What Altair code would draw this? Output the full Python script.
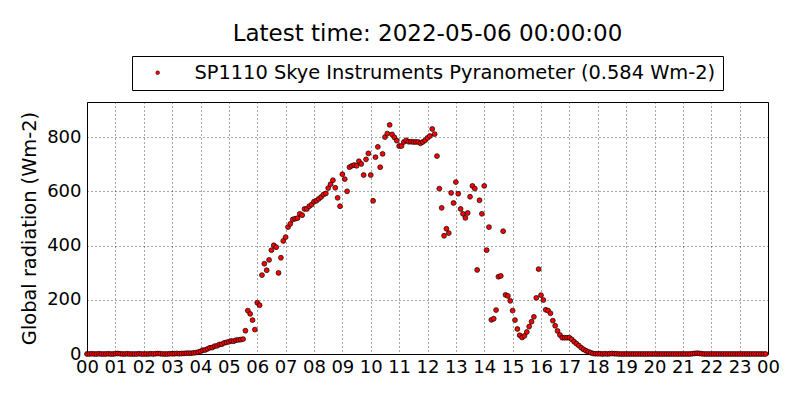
import altair as alt
import pandas as pd

# 5-minute samples, 12 per hour (W m-2)
h00 = [0, 0, 1, 0, 0, 1, 0, 0, 0, 1, 0, 0]
h01 = [1, 2, 1, 0, 0, 1, 0, 0, 0, 0, 1, 0]
h02 = [0, 0, 0, 1, 0, 1, 2, 1, 0, 0, 0, 1]
h03 = [1, 1, 2, 1, 2, 2, 3, 3, 3, 4, 5, 7]
h04 = [10, 14, 15, 19, 23, 24, 29, 30, 35, 36, 41, 43]
h05 = [45, 48, 47, 51, 52, 53, 55, 86, 160, 148, 125, 90]
h06 = [189, 180, 291, 333, 309, 347, 383, 401, 394, 299, 355, 417]
h07 = [431, 468, 480, 496, 499, 501, 517, 512, 535, 535, 545, 551]
h08 = [562, 565, 572, 579, 588, 592, 612, 626, 641, 613, 576, 545]
h09 = [663, 645, 600, 689, 694, 697, 694, 711, 701, 660, 718, 740]
h10 = [660, 565, 726, 764, 689, 738, 800, 813, 845, 810, 799, 787]
h11 = [767, 767, 782, 788, 783, 783, 782, 782, 782, 777, 782, 788]
h12 = [797, 804, 830, 811, 730, 610, 539, 436, 462, 446, 594, 557]
h13 = [634, 591, 535, 517, 502, 520, 580, 620, 610, 310, 567, 517]
h14 = [620, 383, 468, 126, 130, 162, 285, 288, 453, 218, 214, 196]
h15 = [160, 125, 92, 69, 61, 67, 81, 101, 119, 137, 207, 313]
h16 = [217, 199, 163, 160, 150, 123, 104, 85, 70, 60, 60, 60]
h17 = [60, 54, 45, 38, 31, 23, 17, 12, 8, 5, 2, 1]
h18 = [1, 1, 0, 1, 0, 1, 2, 1, 1, 0, 0, 0]
h19 = [0, 0, 0, 0, 0, 0, 0, 0, 0, 0, 0, 0]
h20 = [0, 0, 0, 0, 0, 0, 0, 0, 0, 0, 0, 0]
h21 = [0, 0, 0, 0, 1, 2, 3, 2, 1, 0, 0, 0]
h22 = [0, 0, 0, 0, 0, 0, 0, 0, 0, 0, 0, 0]
h23 = [0, 0, 0, 0, 0, 0, 0, 0, 0, 0, 0, 0]

hours = [h00, h01, h02, h03, h04, h05, h06, h07, h08, h09, h10, h11,
         h12, h13, h14, h15, h16, h17, h18, h19, h20, h21, h22, h23]
hour_ticks = list(range(25))
y_ticks = [0, 200, 400, 600, 800]
series_name = "SP1110 Skye Instruments Pyranometer (0.584 Wm-2)"
title_text = "Latest time: 2022-05-06 00:00:00"

rows = []
for h, vals in enumerate(hours):
    for k, v in enumerate(vals):
        rows.append({"hour": h + k * 5 / 60.0, "rad": v, "series": series_name})
df = pd.DataFrame(rows)

FONT = "DejaVu Sans"

chart = alt.Chart(df).mark_circle(
    size=24, opacity=1, stroke="black", strokeWidth=0.7
).encode(
    x=alt.X("hour:Q",
            scale=alt.Scale(domain=[0, 24], nice=False, zero=False),
            axis=alt.Axis(values=hour_ticks, title=None,
                          labelExpr="(datum.value % 24 < 10 ? '0' : '') + (datum.value % 24)",
                          labelFlush=False, labelOverlap=False,
                          labelPadding=4)),
    y=alt.Y("rad:Q",
            scale=alt.Scale(domain=[0, 929.5], nice=False),
            axis=alt.Axis(values=y_ticks, title="Global radiation (Wm-2)",
                          labelPadding=6, titlePadding=7)),
    color=alt.Color("series:N",
                    scale=alt.Scale(range=["#ff0000"]),
                    legend=alt.Legend(orient="none", legendX=45, legendY=-46,
                                      title=None, labelFont=FONT, labelFontSize=19.4,
                                      labelColor="black", labelLimit=800,
                                      strokeColor="black", fillColor="white",
                                      padding=7, cornerRadius=0,
                                      symbolType="circle", symbolSize=14,
                                      symbolStrokeColor="black", symbolStrokeWidth=0.5,
                                      symbolOffset=9, labelOffset=27)),
).properties(
    width=681, height=252,
    title=alt.TitleParams(title_text, font=FONT, fontSize=23, fontWeight="normal",
                          color="black", anchor="middle", frame="group", offset=10),
    padding={"left": 79, "top": 94, "right": 24, "bottom": 38},
    autosize=alt.AutoSizeParams(type="none"),
).configure_view(
    stroke="black", strokeWidth=1
).configure_axis(
    labelFont=FONT, labelFontSize=18, labelColor="black",
    titleFont=FONT, titleFontSize=19.4, titleFontWeight="normal", titleColor="black",
    domain=False, ticks=False, tickSize=0,
    grid=True, gridColor="black", gridDash=[1, 3], gridWidth=1, gridOpacity=0.7,
)

chart.save("out.html", embed_options={"renderer": "svg", "actions": False})
